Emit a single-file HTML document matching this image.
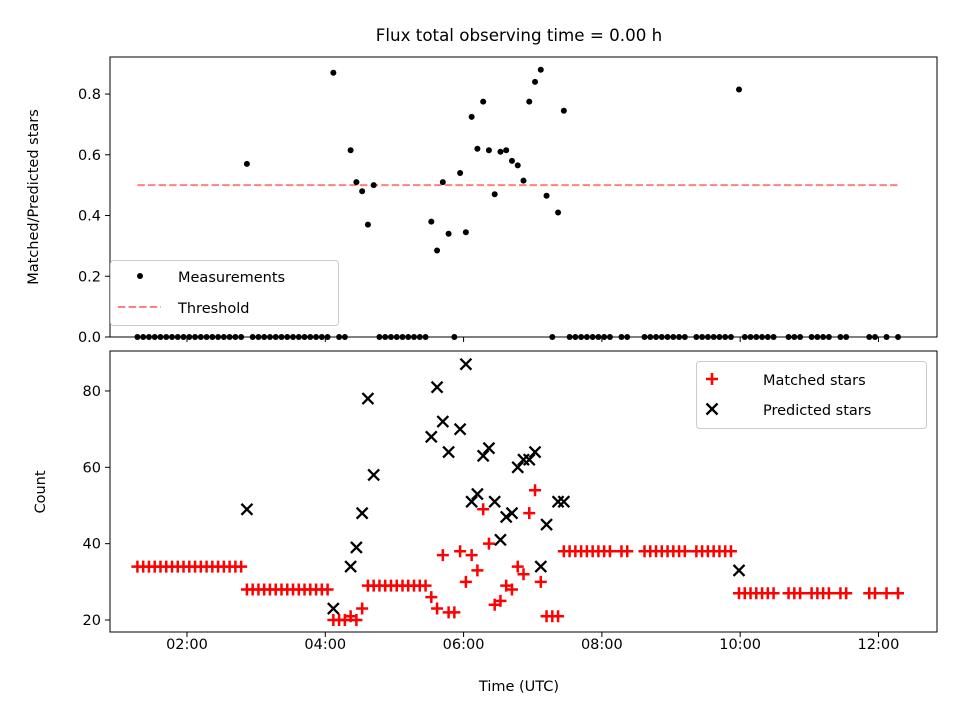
<!DOCTYPE html>
<html><head><meta charset="utf-8"><style>
html,body{margin:0;padding:0;background:#fff;}
svg{display:block;font-family:"DejaVu Sans","Liberation Sans",sans-serif;}
</style></head><body>
<svg id="chart" width="960" height="720" viewBox="0 0 960 720" xmlns="http://www.w3.org/2000/svg">
<rect width="960" height="720" fill="#fff"/>
<text x="519" y="41" text-anchor="middle" font-size="16.7">Flux total observing time = 0.00 h</text>
<g id="top"></g>
<g id="bot"></g>
</svg>
<script>
// time in minutes since 00:00 UTC
const times = [77,82,87,92,97,102,107,112,117,122,127,132,137,142,147,152,157,162,167,
172,177,182,187,192,197,202,207,212,217,222,227,232,237,242,
247,252,257,262,267,272,277,282,287,292,297,302,307,312,317,322,327,
332,337,342,347,352,357,362,367,372,377,382,387,392,397,402,407,412,417,422,427,432,437,442,447,
452,457,462,467,472,477,482,487,497,502,517,522,527,532,537,542,547,552,562,567,572,577,582,587,592,
599,604,609,614,619,624,629,642,647,652,662,667,672,677,687,692,712,717,727,737];
const matched = [34,34,34,34,34,34,34,34,34,34,34,34,34,34,34,34,34,34,34,
28,28,28,28,28,28,28,28,28,28,28,28,28,28,28,
20,20,20,21,20,23,29,29,29,29,29,29,29,29,29,29,29,
26,23,37,22,22,38,30,37,33,49,40,24,25,29,28,34,32,48,54,30,21,21,21,38,
38,38,38,38,38,38,38,38,38,38,38,38,38,38,38,38,38,38,38,38,38,38,38,38,38,
27,27,27,27,27,27,27,27,27,27,27,27,27,27,27,27,27,27,27,27];
const predicted = [null,null,null,null,null,null,null,null,null,null,null,null,null,null,null,null,null,null,null,
49,null,null,null,null,null,null,null,null,null,null,null,null,null,null,
23,null,null,34,39,48,78,58,null,null,null,null,null,null,null,null,null,
68,81,72,64,null,70,87,51,53,63,65,51,41,47,48,60,62,62,64,34,45,null,51,51,
null,null,null,null,null,null,null,null,null,null,null,null,null,null,null,null,null,null,null,null,null,null,null,null,null,
33,null,null,null,null,null,null,null,null,null,null,null,null,null,null,null,null,null,null,null];
const ratio = [0,0,0,0,0,0,0,0,0,0,0,0,0,0,0,0,0,0,0,
0.57,0,0,0,0,0,0,0,0,0,0,0,0,0,0,
0.87,0,0,0.615,0.51,0.48,0.37,0.50,0,0,0,0,0,0,0,0,0,
0.38,0.285,0.51,0.34,0,0.54,0.345,0.725,0.62,0.775,0.615,0.47,0.61,0.615,0.58,0.565,0.515,0.775,0.84,0.88,0.465,0,0.41,0.745,
0,0,0,0,0,0,0,0,0,0,0,0,0,0,0,0,0,0,0,0,0,0,0,0,0,
0.815,0,0,0,0,0,0,0,0,0,0,0,0,0,0,0,0,0,0,0];
const threshold = [0.5];
const xTicks = [120,240,360,480,600,720];
const xTickLabels = ["02:00","04:00","06:00","08:00","10:00","12:00"];
const topTicks = [0,0.2,0.4,0.6,0.8];
const topTickLabels = ["0.0","0.2","0.4","0.6","0.8"];
const botTicks = [20,40,60,80];
const botTickLabels = ["20","40","60","80"];

const NS="http://www.w3.org/2000/svg";
function mk(parent,tag,attrs){const e=document.createElementNS(NS,tag);for(const k in attrs)e.setAttribute(k,attrs[k]);parent.appendChild(e);return e;}
const L=110,R=937;
const xMin=53.2,xMax=770.8;
const X=t=>L+(t-xMin)/(xMax-xMin)*(R-L);
const T={top:57,bot:337,min:0,max:0.922};
const B={top:351,bot:632,min:16.86,max:90.47};
const YT=v=>T.bot-(v-T.min)/(T.max-T.min)*(T.bot-T.top);
const YB=v=>B.bot-(v-B.min)/(B.max-B.min)*(B.bot-B.top);

const gt=document.getElementById('top');
const gb=document.getElementById('bot');

const tMin=times[0],tMax=times[times.length-1];
const th=mk(gt,'line',{x1:X(tMin),x2:X(tMax),y1:YT(threshold[0]),y2:YT(threshold[0]),stroke:'#ff8080','stroke-width':2,'stroke-dasharray':'7.4,3.2'});


times.forEach((t,i)=>{
  const c=mk(gt,'circle',{cx:X(t),cy:YT(ratio[i]),r:3,fill:'#000'});
  
  
});
times.forEach((t,i)=>{
  const x=X(t),y=YB(matched[i]);
  const p=mk(gb,'path',{d:`M${x-6},${y}H${x+6}M${x},${y-6}V${y+6}`,stroke:'#ff0000','stroke-width':2.5,fill:'none'});
  
  
});
times.forEach((t,i)=>{
  if(predicted[i]===null)return;
  const x=X(t),y=YB(predicted[i]),s=5.5;
  const p=mk(gb,'path',{d:`M${x-s},${y-s}L${x+s},${y+s}M${x-s},${y+s}L${x+s},${y-s}`,stroke:'#000','stroke-width':2.3,fill:'none'});
  
  
});

function axes(g,box,Y,ticks,labels,showX,name){
  const fr=mk(g,'rect',{x:L,y:box.top,width:R-L,height:box.bot-box.top,fill:'none',stroke:'#000','stroke-width':1});
  
  
  ticks.forEach((v,i)=>{
    const y=Y(v);
    mk(g,'line',{x1:L-5,x2:L,y1:y,y2:y,stroke:'#000','stroke-width':1});
    const tx=mk(g,'text',{x:L-9,y:y+5,'text-anchor':'end','font-size':14.5});
    tx.textContent=labels[i];
    
    
  });
  xTicks.forEach((v,i)=>{
    const x=X(v);
    mk(g,'line',{x1:x,x2:x,y1:box.bot,y2:box.bot+5,stroke:'#000','stroke-width':1});
    if(showX){
      const tx=mk(g,'text',{x:x,y:box.bot+17,'text-anchor':'middle','font-size':14.5});
      tx.textContent=xTickLabels[i];
      
      
    }
  });
}
axes(gt,T,YT,topTicks,topTickLabels,false,'top-axes');
axes(gb,B,YB,botTicks,botTickLabels,true,'bottom-axes');

function txt(g,x,y,s,name,extra){const t=mk(g,'text',Object.assign({x:x,y:y,'font-size':14.5},extra||{}));t.textContent=s;return t;}
txt(gt,0,0,'Matched/Predicted stars','top-y-axis-title',{transform:`translate(38,197) rotate(-90)`,'text-anchor':'middle'});
txt(gb,0,0,'Count','bottom-y-axis-title',{transform:`translate(45,492) rotate(-90)`,'text-anchor':'middle'});
txt(gb,519,691,'Time (UTC)','x-axis-title',{'text-anchor':'middle'});

const lg1=mk(gt,'g',{});


mk(lg1,'rect',{x:110.5,y:260.5,width:228,height:65,rx:3,fill:'#fff','fill-opacity':0.8,stroke:'#ccc'});
mk(lg1,'circle',{cx:140,cy:276,r:3,fill:'#000'});
txt(lg1,178,282,'Measurements','legend-measurements');
mk(lg1,'line',{x1:118,x2:161,y1:307,y2:307,stroke:'#ff8080','stroke-width':2,'stroke-dasharray':'7.4,3.2'});
txt(lg1,178,313,'Threshold','legend-threshold');

const lg2=mk(gb,'g',{});


mk(lg2,'rect',{x:696.5,y:361.5,width:230,height:67,rx:3,fill:'#fff','fill-opacity':0.8,stroke:'#ccc'});
mk(lg2,'path',{d:'M706,379H718M712,373V385',stroke:'#ff0000','stroke-width':2.5});
txt(lg2,763,385,'Matched stars','legend-matched');
mk(lg2,'path',{d:'M706.5,403.5L717.5,414.5M706.5,414.5L717.5,403.5',stroke:'#000','stroke-width':2.3});
txt(lg2,763,415,'Predicted stars','legend-predicted');
</script>
</body></html>
